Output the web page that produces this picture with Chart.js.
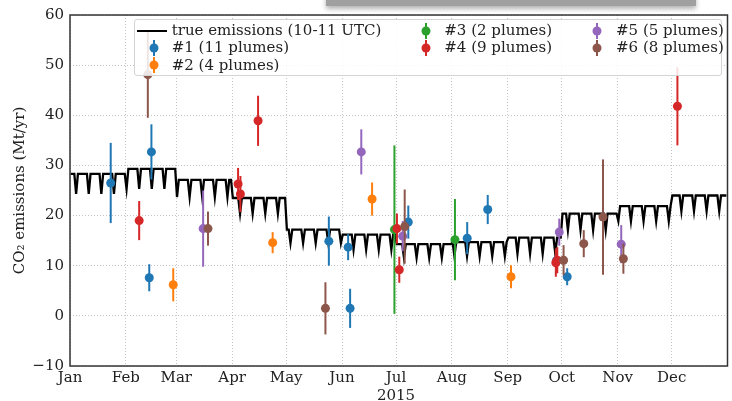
<!DOCTYPE html>
<html>
<head>
<meta charset="utf-8">
<script src="https://cdn.jsdelivr.net/npm/chart.js@4.4.0/dist/chart.umd.min.js"></script>
<style>
  body { margin: 0; background: #fff; }
  #wrap { position: relative; width: 732px; height: 401px; overflow: hidden; }
  #shade { position: absolute; left: 326px; top: -6px; width: 370px; height: 12px; background: #a0a0a0; box-shadow: 0 3px 5px rgba(0,0,0,0.3); }
  #legend { position: absolute; left: 134px; top: 19px; width: 588px; height: 57px; box-sizing: border-box;
    background: rgba(255,255,255,0.85); border: 1px solid #d4d4d4; border-radius: 3px;
    font-family: 'DejaVu Serif', serif; font-size: 15px; color: #222; }
  .item { position: absolute; white-space: nowrap; line-height: 17px; }
  .mark { position: absolute; }
</style>
</head>
<body>
<div id="wrap">
  <canvas id="chart"></canvas>
  <div id="shade"></div>
  <div id="legend"></div>
</div>
<script>
// axis labels
const months = ['Jan', 'Feb', 'Mar', 'Apr', 'May', 'Jun', 'Jul', 'Aug', 'Sep', 'Oct', 'Nov', 'Dec']
const monthStart = [0, 31, 59, 90, 120, 151, 181, 212, 243, 273, 304, 334]
const yearLabel = '2015'
const yTicks = [-10, 0, 10, 20, 30, 40, 50, 60]

// true emissions, weekday level and Sunday dip level per month (Mt/yr)
const trueHigh = [28.3, 29.3, 27.1, 23.5, 17.2, 16.2, 14.3, 14.7, 15.6, 20.4, 21.9, 24.0]
const trueLow = [24.3, 25.3, 23.7, 20.4, 14.5, 13.2, 11.6, 11.9, 12.4, 17.1, 18.9, 20.9]

// plume estimates: day of year, value, error
const s1Day = [22.6, 44.0, 45.2, 143.7, 154.4, 155.5, 187.8, 220.5, 231.9, 270.0, 276.0]
const s1Val = [26.5, 7.6, 32.7, 14.9, 13.7, 1.5, 18.7, 15.5, 21.2, 11.0, 7.8]
const s1Err = [8.0, 2.7, 5.5, 4.9, 2.6, 3.9, 3.3, 3.2, 2.9, 2.5, 1.7]

const s2Day = [57.3, 112.5, 167.7, 244.8]
const s2Val = [6.2, 14.6, 23.3, 7.8]
const s2Err = [3.3, 2.1, 3.3, 2.3]

const s3Day = [180.1, 213.7]
const s3Val = [17.2, 15.2]
const s3Err = [16.8, 8.1]

const s4Day = [38.4, 93.3, 94.6, 104.4, 181.5, 182.8, 269.7, 270.5, 337.2]
const s4Val = [19.0, 26.3, 24.3, 38.9, 17.4, 9.2, 10.6, 11.1, 41.8]
const s4Err = [3.9, 3.2, 3.6, 5.0, 3.0, 2.6, 2.8, 2.6, 7.8]

const s5Day = [73.9, 161.7, 184.7, 271.6, 306.0]
const s5Val = [17.4, 32.7, 15.9, 16.7, 14.3]
const s5Err = [7.6, 4.5, 3.0, 2.7, 3.8]

const s6Day = [43.2, 76.6, 141.8, 185.8, 274.0, 285.2, 295.9, 307.2]
const s6Val = [48.1, 17.4, 1.5, 17.8, 11.1, 14.4, 19.7, 11.4]
const s6Err = [8.6, 3.4, 5.2, 7.4, 3.0, 2.7, 11.5, 3.0]

const lineLabel = 'true emissions (10-11 UTC)'
const seriesLabels = ['#1 (11 plumes)', '#2 (4 plumes)', '#3 (2 plumes)', '#4 (9 plumes)', '#5 (5 plumes)', '#6 (8 plumes)']
const colors = ['#1f77b4', '#ff7f0e', '#2ca02c', '#d62728', '#9467bd', '#8c564b']

const FONT = "'DejaVu Serif', serif"

// daily line, dip on Sundays (Jan 4 2015 was a Sunday)
const trueLine = []
for (let d = 0; d < 365; d++) {
  let m = 11
  while (monthStart[m] > d) m--
  trueLine.push({ x: d + 0.4, y: d % 7 === 3 ? trueLow[m] : trueHigh[m] })
}

const series = [
  [s1Day, s1Val, s1Err], [s2Day, s2Val, s2Err], [s3Day, s3Val, s3Err],
  [s4Day, s4Val, s4Err], [s5Day, s5Val, s5Err], [s6Day, s6Val, s6Err],
]

const plumeSets = series.map(([days, vals, errs], i) => ({
  type: 'scatter',
  label: seriesLabels[i],
  data: days.map((d, j) => ({ x: d, y: vals[j] })),
  errors: errs,
  borderColor: colors[i],
  backgroundColor: colors[i],
  pointRadius: 4.5,
  pointBorderWidth: 0,
  order: 6 - i,
}))

// vertical error bars, drawn under each series' markers
const errorBars = {
  id: 'errorBars',
  beforeDatasetDraw(chart, args) {
    const ds = chart.data.datasets[args.index]
    if (!ds.errors) return
    const { ctx, scales: { x, y } } = chart
    ctx.save()
    ctx.strokeStyle = ds.borderColor
    ctx.lineWidth = 2
    ds.data.forEach((p, i) => {
      const px = x.getPixelForValue(p.x)
      ctx.beginPath()
      ctx.moveTo(px, y.getPixelForValue(p.y - ds.errors[i]))
      ctx.lineTo(px, y.getPixelForValue(p.y + ds.errors[i]))
      ctx.stroke()
    })
    ctx.restore()
  },
}

// box around the plot area
const frame = {
  id: 'frame',
  afterDatasetsDraw(chart) {
    const { ctx, chartArea: a } = chart
    ctx.save()
    ctx.strokeStyle = '#333'
    ctx.lineWidth = 1.5
    ctx.strokeRect(a.left, a.top, a.right - a.left, a.bottom - a.top)
    ctx.restore()
  },
}

const gridStyle = { color: '#b5b5b5', lineWidth: 0.8, drawTicks: false }
const tickFont = { family: FONT, size: 15 }

new Chart(document.getElementById('chart'), {
  type: 'scatter',
  data: {
    datasets: [
      {
        type: 'line',
        label: lineLabel,
        data: trueLine,
        borderColor: '#000',
        borderWidth: 2.3,
        pointRadius: 0,
        tension: 0,
        fill: false,
        order: 10,
      },
      ...plumeSets,
    ],
  },
  options: {
    responsive: true,
    maintainAspectRatio: false,
    animation: false,
    layout: { padding: { top: 13, right: 1, left: 0, bottom: 0 } },
    plugins: { legend: { display: false }, tooltip: { enabled: false } },
    scales: {
      x: {
        type: 'linear',
        min: 0,
        max: 365,
        afterBuildTicks: (s) => { s.ticks = monthStart.map((v) => ({ value: v })) },
        afterFit: (s) => { s.height = 35 },
        ticks: {
          autoSkip: false,
          maxRotation: 0,
          padding: 3,
          color: '#222',
          font: tickFont,
          callback: (v, i) => (i === 6 ? [months[i], yearLabel] : months[i]),
        },
        grid: gridStyle,
        border: { display: false, dash: [1, 2] },
      },
      y: {
        min: -10,
        max: 60,
        afterBuildTicks: (s) => { s.ticks = yTicks.map((v) => ({ value: v })) },
        afterFit: (s) => { s.width = 70 },
        ticks: {
          padding: 6,
          color: '#222',
          font: tickFont,
          callback: (v) => (v < 0 ? '\u2212' + Math.abs(v) : String(v)),
        },
        grid: gridStyle,
        border: { display: false, dash: [1, 2] },
        title: {
          display: true,
          text: 'CO\u2082 emissions (Mt/yr)',
          color: '#222',
          font: { family: FONT, size: 15 },
          padding: { top: 11, bottom: 0 },
        },
      },
    },
  },
  plugins: [errorBars, frame],
})

// legend laid out in three columns like the original
const legend = document.getElementById('legend')
const rows = [10.5, 27.7, 45]
const cols = [{ mark: 18.7, text: 36.7 }, { mark: 291, text: 309.3 }, { mark: 462, text: 481 }]
const slots = [[0, 1], [0, 2], [1, 0], [1, 1], [2, 0], [2, 1]]

const lineItem = document.createElement('div')
lineItem.className = 'item'
lineItem.style.left = cols[0].text + 'px'
lineItem.style.top = (rows[0] - 8.5) + 'px'
lineItem.textContent = lineLabel
legend.appendChild(lineItem)
const sample = document.createElement('div')
sample.className = 'mark'
sample.style.cssText = `left:2px;top:${rows[0] - 1}px;width:30px;height:2px;background:#000;`
legend.appendChild(sample)

seriesLabels.forEach((label, i) => {
  const [c, r] = slots[i]
  const item = document.createElement('div')
  item.className = 'item'
  item.style.left = cols[c].text + 'px'
  item.style.top = (rows[r] - 8.5) + 'px'
  item.textContent = label
  legend.appendChild(item)
  const mark = document.createElement('div')
  mark.className = 'mark'
  mark.style.left = (cols[c].mark - 6) + 'px'
  mark.style.top = (rows[r] - 8) + 'px'
  mark.innerHTML = `<svg width="12" height="16"><line x1="6" y1="0" x2="6" y2="16" stroke="${colors[i]}" stroke-width="2"/><circle cx="6" cy="8" r="4.5" fill="${colors[i]}"/></svg>`
  legend.appendChild(mark)
})
</script>
</body>
</html>
